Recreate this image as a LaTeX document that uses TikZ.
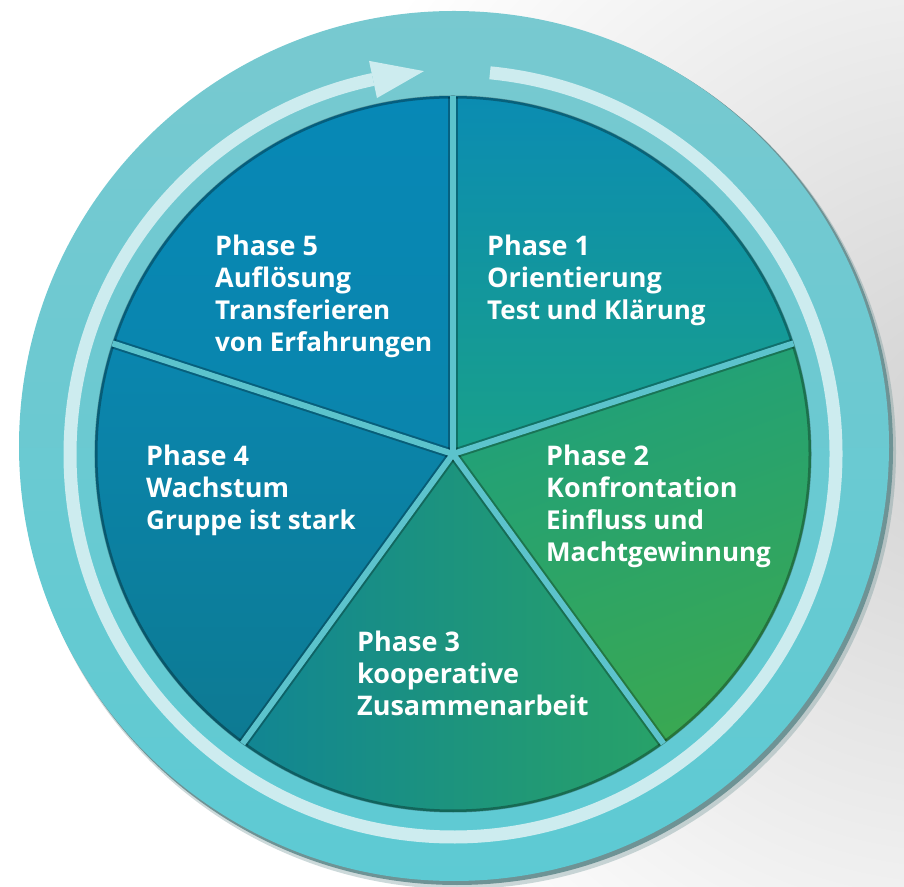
\documentclass[tikz,border=0pt]{standalone}
\usepackage{fontspec}
\setmainfont{Open Sans}
\usetikzlibrary{calc}
\definecolor{ringA}{HTML}{78C9D0}
\definecolor{ringB}{HTML}{5DCAD3}
\definecolor{ringShadow}{HTML}{6E9395}
\definecolor{stripeC}{HTML}{CDECEF}
\definecolor{gapC}{HTML}{5CC3CC}
\definecolor{pA}{HTML}{0B8CB2}
\definecolor{pB}{HTML}{19A08A}
\definecolor{pC}{HTML}{1FA07C}
\definecolor{pD}{HTML}{3AA851}
\definecolor{pE}{HTML}{118593}
\definecolor{pF}{HTML}{28A268}
\definecolor{pG}{HTML}{0A86AF}
\definecolor{pH}{HTML}{0D7A92}
\definecolor{pI}{HTML}{0788B6}
\definecolor{pJ}{HTML}{0A85AC}
\tikzset{
  phaselbl/.style={anchor=base west, inner sep=0pt, text=white, font=\fontsize{27}{32}\selectfont},
  stripe/.style={draw=stripeC, line width=13pt},
  gapline/.style={draw=gapC, line width=6pt},
  gapshadow/.style={draw=black, opacity=.28, line width=10pt},
}
\newcommand{\semib}{\bfseries\fontsize{26}{32}\selectfont}
\begin{document}
\begin{tikzpicture}[x=1pt,y=1pt]
\useasboundingbox (0,0) rectangle (904,886);
\fill[white] (0,0) rectangle (904,886);
\begin{scope}
  \clip (0,0) rectangle (904,886);
  \shade[inner color=gray!35, outer color=white] (960,460) circle (700);
\end{scope}
\coordinate (C) at (453,432);
\coordinate (O) at (454,440);
% outer ring with shadow
\fill[ringShadow, opacity=.35] ($(O)+(5,-6)$) circle (437);
\fill[ringShadow] ($(O)+(3,-3)$) circle (436);
\shade[top color=ringA, bottom color=ringB] (O) circle (435);
% stripe with arrow
\draw[stripe] ($(C)+(84.46:383)$) arc[start angle=84.46, end angle=-257.94, radius=383];
\fill[stripeC] ($(C)+(102.06:402)$) -- ($(C)+(94.34:384)$) -- ($(C)+(102.06:364)$) -- cycle;
% pie wedges
\shade[top color=pA, bottom color=pB] (C) -- ($(C)+(18:358)$) arc[start angle=18, end angle=90, radius=358] -- cycle;
\shade[top color=pC, bottom color=pD, shading angle=20] (C) -- ($(C)+(-54:358)$) arc[start angle=-54, end angle=18, radius=358] -- cycle;
\shade[left color=pE, right color=pF] (C) -- ($(C)+(-126:358)$) arc[start angle=-126, end angle=-54, radius=358] -- cycle;
\shade[top color=pG, bottom color=pH] (C) -- ($(C)+(162:358)$) arc[start angle=162, end angle=234, radius=358] -- cycle;
\shade[top color=pI, bottom color=pJ] (C) -- ($(C)+(90:358)$) arc[start angle=90, end angle=162, radius=358] -- cycle;
\draw[black, opacity=.3, line width=3pt] (C) circle (357);
\foreach \a in {90,18,-54,-126,162} {
  \draw[gapshadow] (C) -- ($(C)+(\a:357)$);
}
\foreach \a in {90,18,-54,-126,162} {
  \draw[gapline] (C) -- ($(C)+(\a:358)$);
}
% labels
\node[phaselbl] (p1) at (487,630) {\begin{tabular}[t]{@{}l@{}}\bfseries Phase 1\\\bfseries Orientierung\\\semib Test und Klärung\end{tabular}};
\node[phaselbl] (p2) at (546,420) {\begin{tabular}[t]{@{}l@{}}\bfseries Phase 2\\\bfseries Konfrontation\\\semib Einfluss und\\\semib Machtgewinnung\end{tabular}};
\node[phaselbl] (p3) at (357,234) {\begin{tabular}[t]{@{}l@{}}\bfseries Phase 3\\\bfseries kooperative\\\bfseries Zusammenarbeit\end{tabular}};
\node[phaselbl] (p4) at (146,420) {\begin{tabular}[t]{@{}l@{}}\bfseries Phase 4\\\bfseries Wachstum\\\semib Gruppe ist stark\end{tabular}};
\node[phaselbl] (p5) at (215,630) {\begin{tabular}[t]{@{}l@{}}\bfseries Phase 5\\\bfseries Auflösung\\\semib Transferieren\\\semib von Erfahrungen\end{tabular}};
\end{tikzpicture}
\end{document}
